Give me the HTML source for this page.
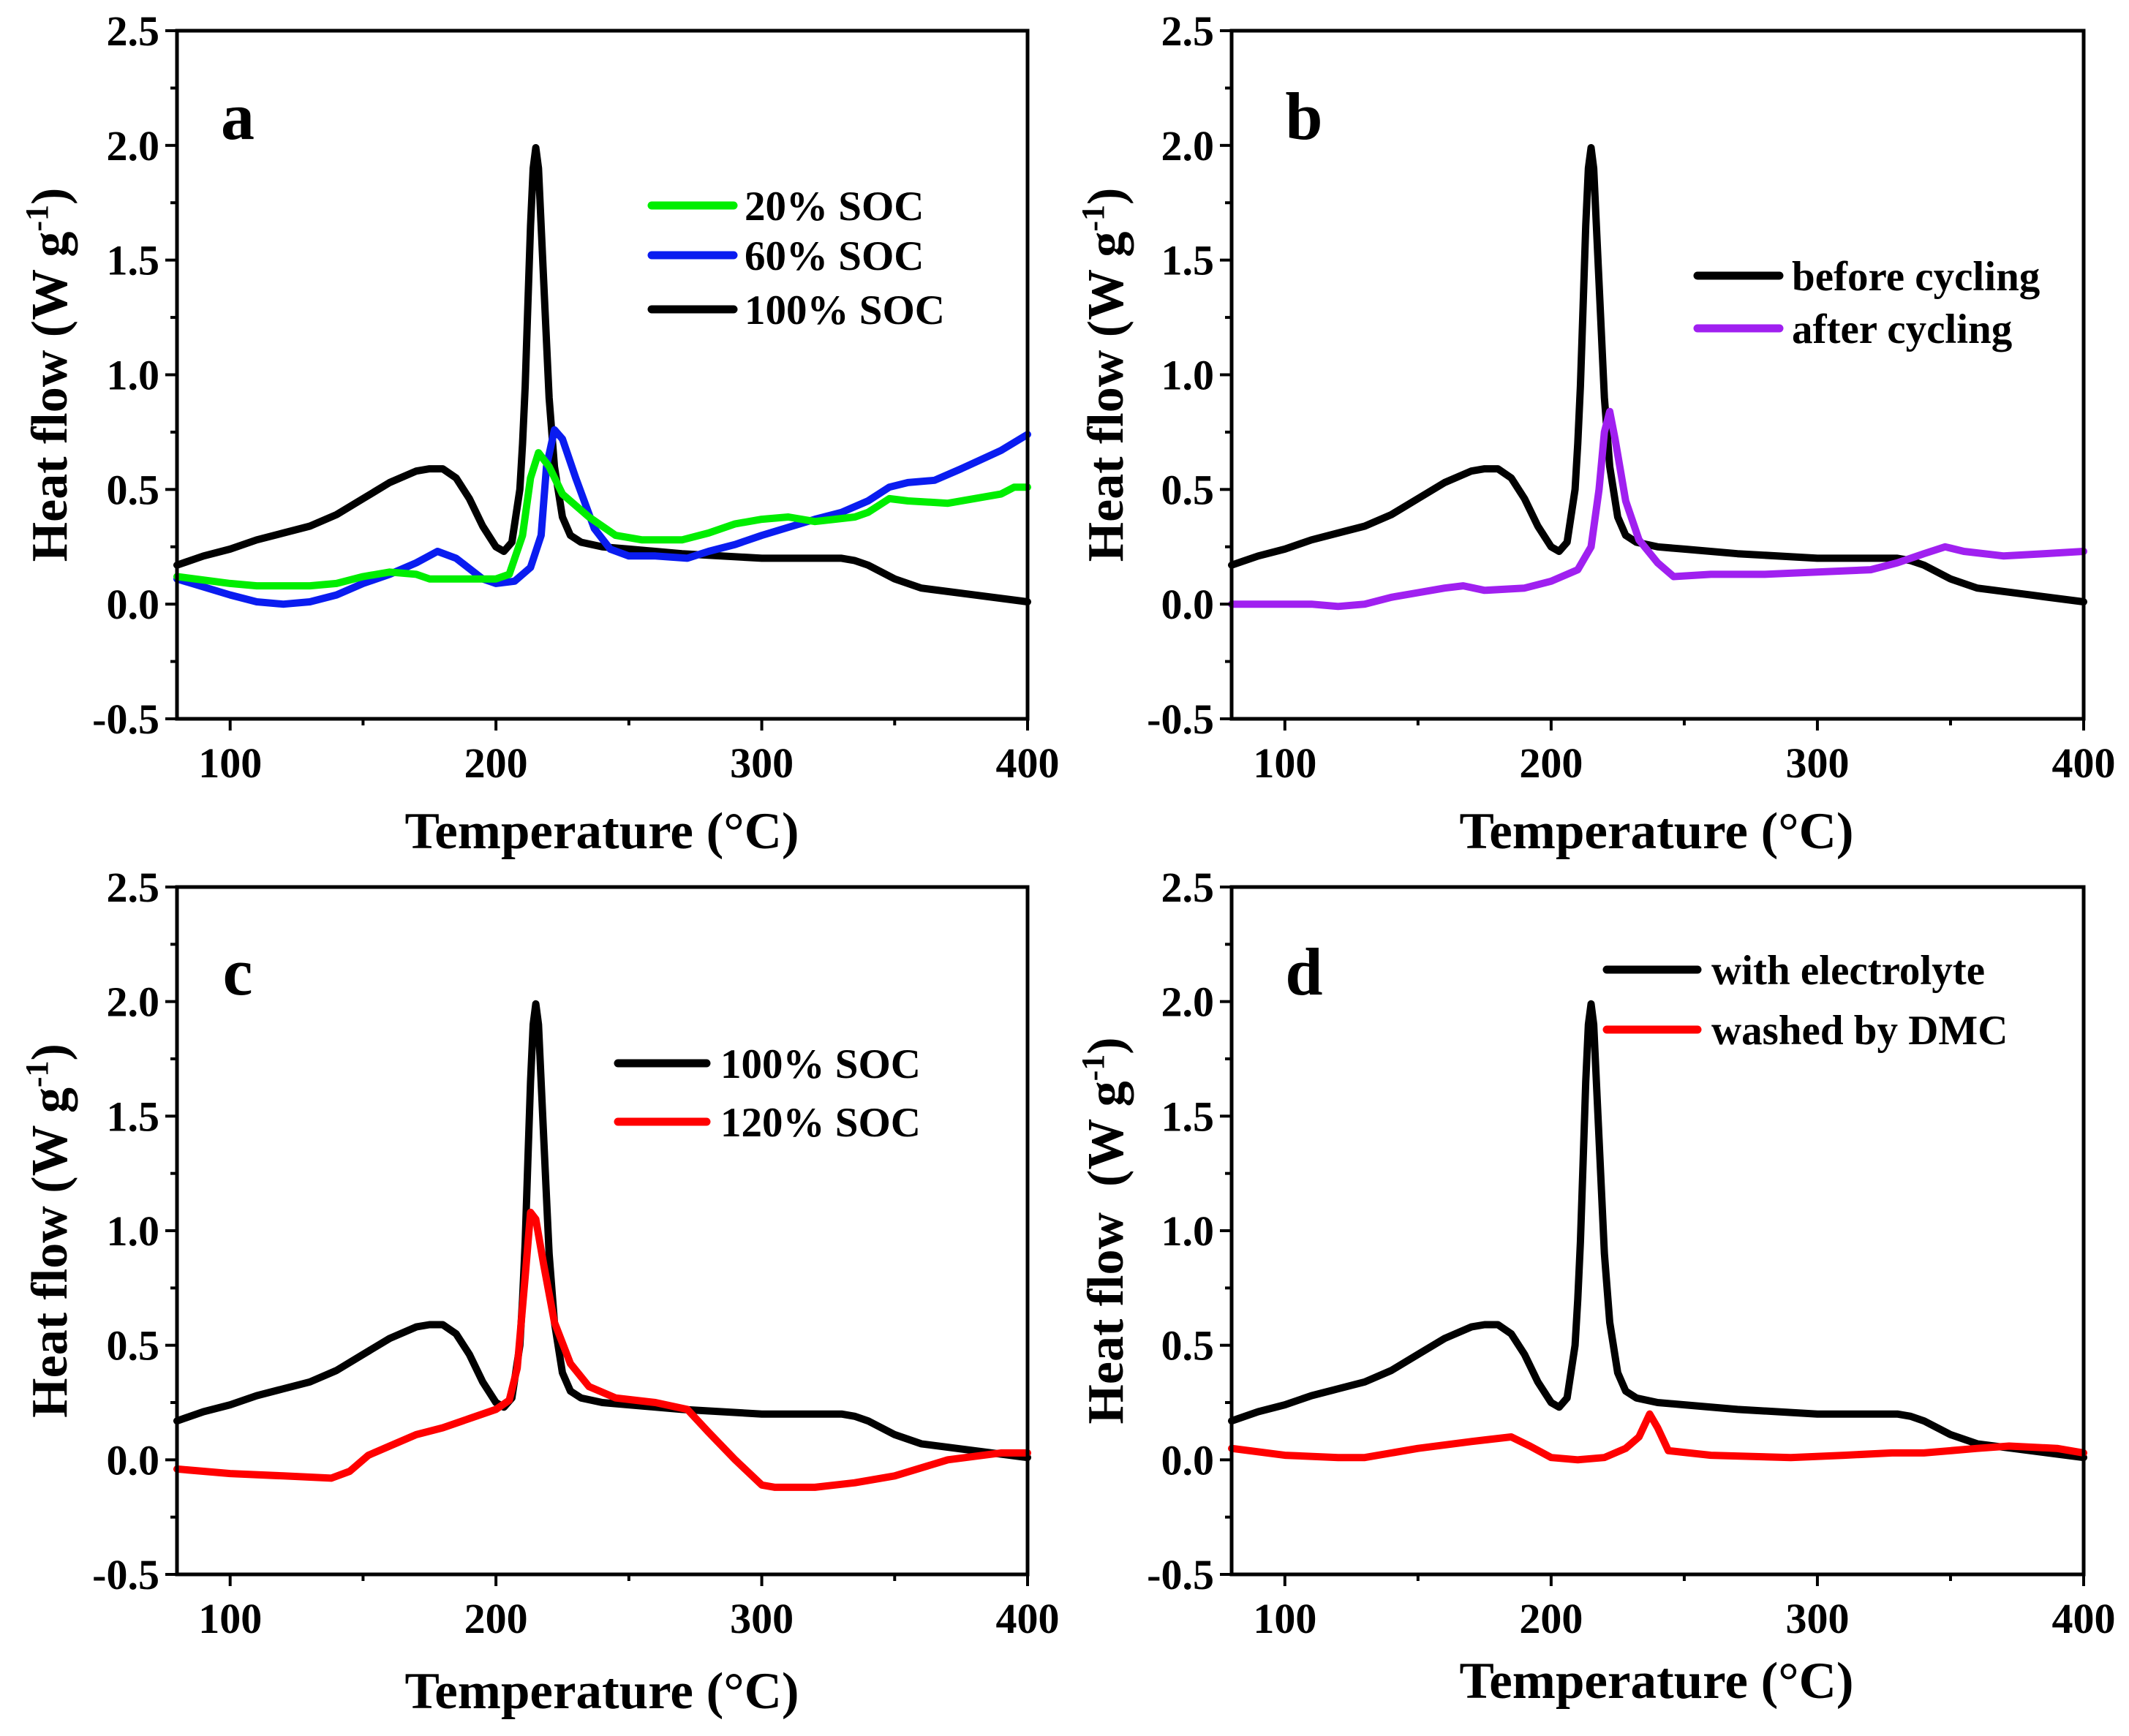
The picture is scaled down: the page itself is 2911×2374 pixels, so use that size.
<!DOCTYPE html>
<html><head><meta charset="utf-8">
<style>
html,body{margin:0;padding:0;background:#fff;}
svg{display:block;}
text{font-family:"Liberation Serif",serif;font-weight:bold;fill:#000;}
</style></head>
<body>
<svg id="fig" width="2911" height="2374" viewBox="0 0 2911 2374" xmlns="http://www.w3.org/2000/svg"></svg>
<script>
// ---- data ----
const blackT = [80,90,100,110,120,130,140,150,160,170,175,180,185,190,195,200,203,206,209,210,211,212,213,214,215,216,218,220,222,225,228,232,240,250,270,300,320,330,335,340,350,360,380,400];
const blackV = [0.17,0.21,0.24,0.28,0.31,0.34,0.39,0.46,0.53,0.58,0.59,0.59,0.55,0.46,0.34,0.25,0.23,0.27,0.5,0.7,0.95,1.3,1.65,1.9,1.99,1.9,1.4,0.9,0.6,0.38,0.3,0.27,0.25,0.24,0.22,0.2,0.2,0.2,0.19,0.17,0.11,0.07,0.04,0.01];
const greenT = [80,100,110,120,130,140,150,160,170,175,190,200,205,210,213,216,220,225,235,245,255,270,280,290,300,310,320,335,340,348,355,370,390,395,400];
const greenV = [0.12,0.09,0.08,0.08,0.08,0.09,0.12,0.14,0.13,0.11,0.11,0.11,0.13,0.3,0.55,0.66,0.6,0.48,0.38,0.3,0.28,0.28,0.31,0.35,0.37,0.38,0.36,0.38,0.4,0.46,0.45,0.44,0.48,0.51,0.51];
const blueT = [80,100,110,120,130,140,150,160,170,178,185,195,200,207,213,217,219,222,225,230,237,243,250,260,272,280,290,300,320,330,340,348,355,365,375,390,400];
const blueV = [0.11,0.04,0.01,0.0,0.01,0.04,0.09,0.13,0.18,0.23,0.2,0.11,0.09,0.1,0.16,0.3,0.6,0.76,0.72,0.55,0.33,0.24,0.21,0.21,0.2,0.23,0.26,0.3,0.37,0.4,0.45,0.51,0.53,0.54,0.59,0.67,0.74];
const purpleT = [80,100,110,120,130,140,150,160,167,175,190,200,210,215,218,220,222,224,228,233,240,246,260,280,300,320,330,340,348,355,370,385,400];
const purpleV = [0.0,0.0,0.0,-0.01,0.0,0.03,0.05,0.07,0.08,0.06,0.07,0.1,0.15,0.25,0.5,0.75,0.84,0.72,0.45,0.28,0.18,0.12,0.13,0.13,0.14,0.15,0.18,0.22,0.25,0.23,0.21,0.22,0.23];
const red120T = [80,100,120,138,145,152,160,170,180,190,200,205,208,211,213,215,218,222,228,235,245,260,272,280,290,300,305,320,335,350,370,390,400];
const red120V = [-0.04,-0.06,-0.07,-0.08,-0.05,0.02,0.06,0.11,0.14,0.18,0.22,0.26,0.4,0.8,1.08,1.05,0.85,0.6,0.42,0.32,0.27,0.25,0.22,0.12,0.0,-0.11,-0.12,-0.12,-0.1,-0.07,0.0,0.03,0.03];
const redDT = [80,100,120,130,150,170,185,192,200,210,220,228,233,237,240,244,260,290,310,328,340,360,372,390,400];
const redDV = [0.05,0.02,0.01,0.01,0.05,0.08,0.1,0.06,0.01,0.0,0.01,0.05,0.1,0.2,0.14,0.04,0.02,0.01,0.02,0.03,0.03,0.05,0.06,0.05,0.03];
const xTicks = [100,200,300,400];
const yTicks = [-0.5,0.0,0.5,1.0,1.5,2.0,2.5];
const yTickLabels = ["-0.5","0.0","0.5","1.0","1.5","2.0","2.5"];

const NS="http://www.w3.org/2000/svg";
const svg=document.getElementById('fig');
function mk(tag,attrs,parent){const e=document.createElementNS(NS,tag);for(const k in attrs)e.setAttribute(k,attrs[k]);(parent||svg).appendChild(e);return e;}

const panels=[
 {id:'a',L:242,R:1405,T:42,B:983,letter:[325,190],xl:[823,1160],yl:69,
  series:[{n:'20% SOC',t:greenT,v:greenV,c:'#00ee00'},{n:'60% SOC',t:blueT,v:blueV,c:'#0a1cf0'},{n:'100% SOC',t:blackT,v:blackV,c:'#000'}],
  leg:{x1:891,x2:1003,tx:1018,ys:[281,349,423]}, order:[2,1,0]},
 {id:'b',L:1684,R:2849,T:42,B:983,letter:[1783,190],xl:[2265,1160],yl:1513,
  series:[{n:'before cycling',t:blackT,v:blackV,c:'#000'},{n:'after cycling',t:purpleT,v:purpleV,c:'#a020f0'}],
  leg:{x1:2321,x2:2433,tx:2450,ys:[377,449]}, order:[0,1]},
 {id:'c',L:242,R:1405,T:1213,B:2153,letter:[325,1360],xl:[823,2336],yl:69,
  series:[{n:'100% SOC',t:blackT,v:blackV,c:'#000'},{n:'120% SOC',t:red120T,v:red120V,c:'#ff0000'}],
  leg:{x1:845,x2:966,tx:985,ys:[1454,1534]}, order:[0,1]},
 {id:'d',L:1684,R:2849,T:1213,B:2153,letter:[1783,1360],xl:[2265,2322],yl:1513,
  series:[{n:'with electrolyte',t:blackT,v:blackV,c:'#000'},{n:'washed by DMC',t:redDT,v:redDV,c:'#ff0000'}],
  leg:{x1:2197,x2:2321,tx:2340,ys:[1326,1408]}, order:[0,1]}
];

panels.forEach(p=>{
  const g=mk('g',{});
  
  
  const X=t=>p.L+(t-80)/(400-80)*(p.R-p.L);
  const Y=v=>p.B-(v+0.5)/3*(p.B-p.T);
  p.order.forEach(i=>{
    const s=p.series[i];
    const d=s.t.map((t,k)=>(k?'L':'M')+X(t).toFixed(1)+','+Y(s.v[k]).toFixed(1)).join(' ');
    const path=mk('path',{d:d,fill:'none',stroke:s.c,'stroke-width':10,'stroke-linejoin':'round','stroke-linecap':'round'},g);
    
    
  });
  const frame=mk('rect',{x:p.L,y:p.T,width:p.R-p.L,height:p.B-p.T,fill:'none',stroke:'#000','stroke-width':5},g);
  
  
  for(let t=100;t<=400;t+=50){
    const major=t%100===0;
    mk('line',{x1:X(t),x2:X(t),y1:p.B,y2:p.B+(major?16:9),stroke:'#000','stroke-width':4},g);
  }
  xTicks.forEach(t=>{
    const tx=mk('text',{x:X(t),y:p.B+80,'font-size':58,'text-anchor':'middle'},g);
    tx.textContent=t;
    
    
  });
  for(let v=-0.5;v<=2.5001;v+=0.25){
    const major=Math.abs(v*2-Math.round(v*2))<1e-6;
    mk('line',{x1:p.L,x2:p.L-(major?16:9),y1:Y(v),y2:Y(v),stroke:'#000','stroke-width':4},g);
  }
  yTicks.forEach((v,i)=>{
    const tx=mk('text',{x:p.L-24,y:Y(v)+20,'font-size':58,'text-anchor':'end'},g);
    tx.textContent=yTickLabels[i];
    
    
  });
  const xt=mk('text',{x:p.xl[0],y:p.xl[1],'font-size':71,'text-anchor':'middle'},g);
  xt.textContent='Temperature (\u00B0C)';
  
  
  const cy=(p.T+p.B)/2;
  const yt=mk('text',{x:0,y:0,'font-size':70,'text-anchor':'middle',transform:`translate(${p.yl+22},${cy}) rotate(-90)`},g);
  yt.innerHTML=(p.id==='d'?'Heat flow&#160;&#160;(W g':'Heat flow (W g')+'<tspan dy="-26" font-size="44">-1</tspan><tspan dy="26">)</tspan>';
  
  
  const lt=mk('text',{x:p.letter[0],y:p.letter[1],'font-size':92,'text-anchor':'middle'},g);
  lt.textContent=p.id;
  
  
  p.series.forEach((s,i)=>{
    const y=p.leg.ys[i];
    const ln=mk('line',{x1:p.leg.x1,x2:p.leg.x2,y1:y,y2:y,stroke:s.c,'stroke-width':11,'stroke-linecap':'round'},g);
    
    
    const tx=mk('text',{x:p.leg.tx,y:y+20,'font-size':57},g);
    tx.textContent=s.n;
    
    
  });
});
</script>
</body></html>
